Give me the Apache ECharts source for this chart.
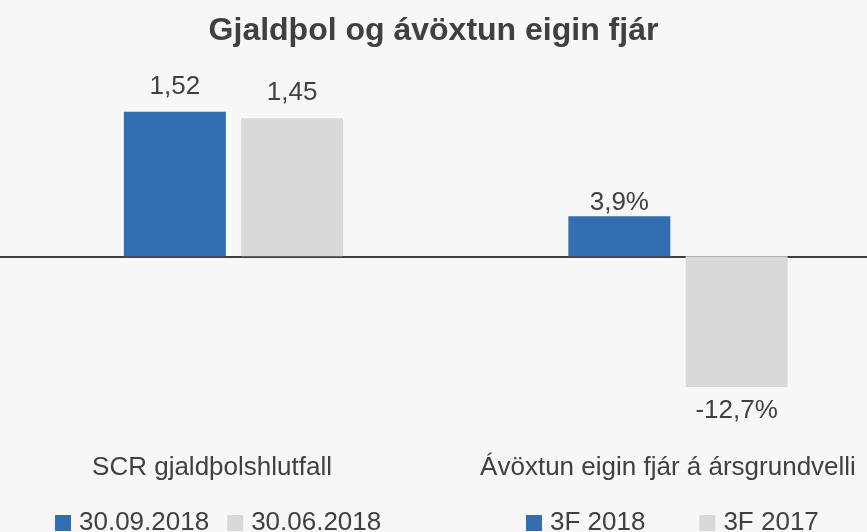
<!DOCTYPE html>
<html>
<head>
<meta charset="utf-8">
<script src="https://cdn.jsdelivr.net/npm/echarts@6/dist/echarts.min.js"></script>
<style>
  html, body { margin: 0; padding: 0; background: #f7f7f7; }
  #chart { width: 867px; height: 532px; }
</style>
</head>
<body>
<div id="chart"></div>
<script>
  // data
  var categories = ['SCR gjaldþolshlutfall', 'Ávöxtun eigin fjár á ársgrundvelli'];
  var scrNames = ['30.09.2018', '30.06.2018'];
  var scrValues = [1.52, 1.45];
  var roeNames = ['3F 2018', '3F 2017'];
  var roeValues = [3.9, -12.7];
  var colors = ['#336eb0', '#d9d9d9'];

  var font = 'Liberation Sans, Arial, sans-serif';
  var textColor = '#404040';

  var chartDom = document.getElementById('chart');
  var myChart = echarts.init(chartDom, null, {renderer: 'canvas'});

  // axis sitting on zero: only the base line
  function baseAxis(idx, cat) {
    return {
      type: 'category',
      gridIndex: idx,
      data: [cat],
      axisTick: {show: false},
      axisLabel: {show: false},
      axisLine: {onZero: true, lineStyle: {color: textColor, width: 2}}
    };
  }

  // axis at bottom of grid: only the category label
  function labelAxis(idx, cat, pad, margin) {
    return {
      type: 'category',
      gridIndex: idx,
      position: 'bottom',
      data: [cat],
      axisTick: {show: false},
      axisLine: {show: false, onZero: false},
      axisLabel: {
        margin: margin,
        fontSize: 26,
        color: textColor,
        fontFamily: font,
        padding: [0, pad, 0, 0]
      }
    };
  }

  function barSeries(name, value, idx, color, fmt, dist) {
    return {
      name: name,
      type: 'bar',
      xAxisIndex: idx,
      yAxisIndex: idx,
      barWidth: 102,
      barGap: '15%',
      itemStyle: {color: color},
      label: {
        show: true,
        position: value < 0 ? 'bottom' : 'top',
        distance: dist,
        fontSize: 26,
        color: textColor,
        fontFamily: font,
        formatter: function (p) { return fmt(p.value); }
      },
      data: [value]
    };
  }

  var fmtScr = function (v) { return v.toFixed(2).replace('.', ','); };
  var fmtRoe = function (v) { return v.toFixed(1).replace('.', ',') + '%'; };

  var legendText = {fontSize: 26, color: textColor, fontFamily: font, padding: [22, 0, 0, 3]};

  var option = {
    backgroundColor: '#f7f7f7',
    animation: false,
    title: {
      text: 'Gjaldþol og ávöxtun eigin fjár',
      left: 'center',
      top: 10,
      textStyle: {fontSize: 32, fontWeight: 'bold', color: textColor, fontFamily: font}
    },
    legend: [
      {
        data: scrNames,
        left: 50,
        top: 505,
        itemWidth: 16,
        itemHeight: 16,
        itemGap: 18,
        icon: 'rect',
        textStyle: legendText
      },
      {
        data: roeNames,
        left: 521,
        top: 505,
        itemWidth: 16,
        itemHeight: 16,
        itemGap: 54,
        icon: 'rect',
        textStyle: legendText
      }
    ],
    grid: [
      {left: -22, width: 511, top: 66, height: 333, outerBoundsMode: 'none', containLabel: false},
      {left: 489, right: 0, top: 102, height: 360, outerBoundsMode: 'none', containLabel: false}
    ],
    xAxis: [
      baseAxis(0, categories[0]),
      baseAxis(1, categories[1]),
      labelAxis(0, categories[0], 43, 56),
      labelAxis(1, categories[1], 20, -7)
    ],
    yAxis: [
      {type: 'value', gridIndex: 0, min: -1.5, max: 2, show: false},
      {type: 'value', gridIndex: 1, min: -20, max: 15, show: false}
    ],
    series: [
      barSeries(scrNames[0], scrValues[0], 0, colors[0], fmtScr, 12),
      barSeries(scrNames[1], scrValues[1], 0, colors[1], fmtScr, 13),
      barSeries(roeNames[0], roeValues[0], 1, colors[0], fmtRoe, 0),
      barSeries(roeNames[1], roeValues[1], 1, colors[1], fmtRoe, 11)
    ]
  };

  option && myChart.setOption(option);
</script>
</body>
</html>
